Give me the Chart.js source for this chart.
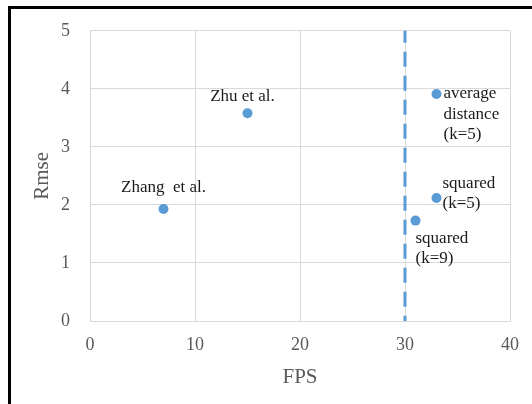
<!DOCTYPE html>
<html>
<head>
<meta charset="utf-8">
<script src="https://cdn.jsdelivr.net/npm/chart.js@4.4.0/dist/chart.umd.min.js"></script>
<style>
  html, body { margin: 0; padding: 0; background: #fff; }
  #wrap { position: relative; width: 532px; height: 404px; overflow: hidden; }
  #frame { position: absolute; left: 8px; top: 6px; right: -10px; bottom: -10px;
           border-left: 3px solid #000; border-top: 3px solid #000; }
  canvas { position: absolute; left: 0; top: 0; }
</style>
</head>
<body>
<div id="wrap">
  <div id="frame"></div>
  <canvas id="fpsChart" width="532" height="404"></canvas>
</div>
<script>
// data
const fps = [7, 15, 33, 33, 31];
const rmse = [1.93, 3.58, 3.91, 2.12, 1.73];
const pointLabels = [
  ["Zhang  et al."],
  ["Zhu et al."],
  ["average", "distance", "(k=5)"],
  ["squared", "(k=5)"],
  ["squared", "(k=9)"]
];
const thresholdFps = 30;
const xTicks = [0, 10, 20, 30, 40];
const yTicks = [0, 1, 2, 3, 4, 5];

// where each label sits relative to its point: [dx, dy of first baseline, align]
const labelPlacement = [
  [0, -17, "center"],
  [-5, -12, "center"],
  [7, 4, "left"],
  [6, -10, "left"],
  [0, 22, "left"]
];

const blue = "#5b9bd5";
const serif = '"Liberation Serif", "Times New Roman", serif';

const pointLabelPlugin = {
  id: "pointLabels",
  afterDatasetsDraw(chart) {
    const ctx = chart.ctx;
    const pts = chart.getDatasetMeta(1).data;
    ctx.save();
    ctx.font = '17px ' + serif;
    ctx.fillStyle = "#1a1a1a";
    ctx.textBaseline = "alphabetic";
    pts.forEach((p, i) => {
      const [dx, dy, align] = labelPlacement[i];
      ctx.textAlign = align;
      pointLabels[i].forEach((line, j) => {
        ctx.fillText(line, p.x + dx, p.y + dy + j * 20.5);
      });
    });
    ctx.restore();
  }
};

const ctx = document.getElementById('fpsChart').getContext('2d');
new Chart(ctx, {
  type: 'scatter',
  data: {
    datasets: [
      {
        type: 'line',
        label: 'threshold',
        data: [
          { x: thresholdFps, y: yTicks[yTicks.length - 1] },
          { x: thresholdFps, y: yTicks[0] }
        ],
        borderColor: blue,
        borderWidth: 3,
        borderDash: [15, 9],
        borderDashOffset: 3,
        pointRadius: 0,
        fill: false,
        clip: false
      },
      {
        label: 'methods',
        data: fps.map((x, i) => ({ x: x, y: rmse[i] })),
        backgroundColor: blue,
        borderWidth: 0,
        pointRadius: 5,
        pointHoverRadius: 5
      }
    ]
  },
  options: {
    responsive: false,
    animation: false,
    layout: { padding: { top: 28, right: 21, left: 20, bottom: 0 } },
    plugins: {
      legend: { display: false },
      tooltip: { enabled: false }
    },
    scales: {
      x: {
        type: 'linear',
        min: xTicks[0],
        max: xTicks[xTicks.length - 1],
        ticks: {
          stepSize: xTicks[1] - xTicks[0],
          color: "#595959",
          font: { family: serif, size: 18 },
          padding: 13
        },
        grid: { color: "#d9d9d9", drawTicks: false },
        border: { color: "#d9d9d9" },
        title: {
          display: true,
          text: "FPS",
          color: "#595959",
          font: { family: serif, size: 21 },
          padding: { top: 0, bottom: 14 }
        },
        afterFit(s) { s.height = 83; }
      },
      y: {
        min: yTicks[0],
        max: yTicks[yTicks.length - 1],
        ticks: {
          stepSize: yTicks[1] - yTicks[0],
          color: "#595959",
          font: { family: serif, size: 18 },
          padding: 20
        },
        grid: { color: "#d9d9d9", drawTicks: false },
        border: { color: "#d9d9d9" },
        title: {
          display: true,
          text: "Rmse",
          color: "#595959",
          font: { family: serif, size: 21 },
          padding: { top: 10, bottom: 0 }
        },
        afterFit(s) { s.width = 70; }
      }
    }
  },
  plugins: [pointLabelPlugin]
});
</script>
</body>
</html>
